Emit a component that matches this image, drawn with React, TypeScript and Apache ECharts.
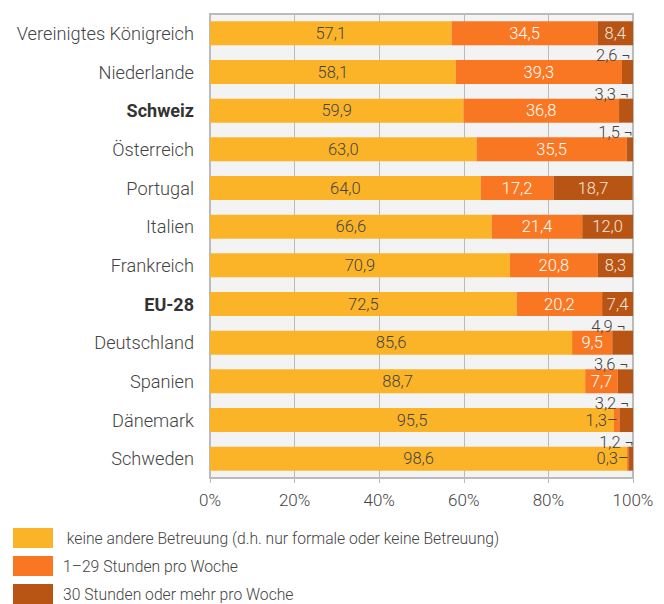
import React, { useEffect, useRef } from "react";
import * as echarts from "echarts";

const categories = [
  "Vereinigtes Königreich",
  "Niederlande",
  "Schweiz",
  "Österreich",
  "Portugal",
  "Italien",
  "Frankreich",
  "EU-28",
  "Deutschland",
  "Spanien",
  "Dänemark",
  "Schweden",
];
const boldCategories = ["Schweiz", "EU-28"];
const noneValues = [57.1, 58.1, 59.9, 63.0, 64.0, 66.6, 70.9, 72.5, 85.6, 88.7, 95.5, 98.6];
const midValues = [34.5, 39.3, 36.8, 35.5, 17.2, 21.4, 20.8, 20.2, 9.5, 7.7, 1.3, 0.3];
const highValues = [8.4, 2.6, 3.3, 1.5, 18.7, 12.0, 8.3, 7.4, 4.9, 3.6, 3.2, 1.2];
const xTicks = [0, 20, 40, 60, 80, 100];
const seriesNames = [
  " keine andere Betreuung (d.h. nur formale oder keine Betreuung)",
  "1–29 Stunden pro Woche",
  "30 Stunden oder mehr pro Woche",
];

const FONT = "Roboto";
const fmt = (v: number) => v.toFixed(1).replace(".", ",");

export default function App() {
  const ref = useRef<HTMLDivElement>(null);
  useEffect(() => {
    document.body.style.margin = "0";
    const chart = echarts.init(ref.current!, null, { renderer: "svg" });
    const baseLabel = {
      show: true,
      fontFamily: FONT,
      fontSize: 16.5,
      fontWeight: 300 as any,
    };
    const midData = midValues.map((v) =>
      v < 5
        ? {
            value: v,
            label: {
              ...baseLabel,
              position: ["50%", "50%"],
              align: "right",
              verticalAlign: "middle",
              color: "#444",
              offset: [1, 0],
              formatter: () => fmt(v) + "–",
            },
          }
        : { value: v }
    );
    const highData = highValues.map((v) =>
      v < 5
        ? {
            value: v,
            label: {
              ...baseLabel,
              position: ["50%", 0],
              align: "right",
              verticalAlign: "bottom",
              color: "#444",
              offset: [3, 4],
              formatter: () => fmt(v) + " ¬",
            },
          }
        : { value: v }
    );
    chart.setOption({
      animation: false,
      textStyle: { fontFamily: FONT },
      grid: {
        left: 210,
        right: 31,
        top: 14,
        bottom: 126,
        show: true,
        backgroundColor: "#f3f3f3",
        borderColor: "#bbbbbb",
        borderWidth: 2,
      },
      legend: {
        orient: "vertical",
        left: 13,
        top: 528,
        height: 90,
        itemWidth: 40,
        itemHeight: 20,
        itemGap: 8,
        padding: 0,
        icon: "rect",
        textStyle: {
          fontFamily: FONT,
          fontSize: 15.7,
          fontWeight: 300,
          color: "#444",
          padding: [0, 0, 0, 5],
        },
        data: seriesNames,
      },
      xAxis: {
        type: "value",
        min: 0,
        max: 100,
        interval: 20,
        axisLine: { show: true, lineStyle: { color: "#bbbbbb", width: 2 } },
        axisTick: { show: true, length: 5, lineStyle: { color: "#bbbbbb" } },
        splitLine: { show: true, lineStyle: { color: "#bbbbbb", width: 1 } },
        axisLabel: {
          fontFamily: FONT,
          fontSize: 17,
          fontWeight: 300,
          color: "#444",
          margin: 13,
          formatter: (v: number) => (xTicks.includes(v) ? v + "%" : ""),
        },
      },
      yAxis: {
        type: "category",
        inverse: true,
        data: categories,
        axisLine: { show: false },
        axisTick: { show: false },
        axisLabel: {
          fontFamily: FONT,
          fontSize: 18.2,
          fontWeight: 300,
          color: "#444",
          margin: 16,
          formatter: (v: string) => (boldCategories.includes(v) ? "{b|" + v + "}" : v),
          rich: {
            b: { fontFamily: FONT, fontSize: 18, fontWeight: "bold", color: "#333" },
          },
        },
      },
      series: [
        {
          name: seriesNames[0],
          type: "bar",
          stack: "total",
          barWidth: 24,
          itemStyle: { color: "#fbb427" },
          label: {
            ...baseLabel,
            position: "inside",
            color: "#444",
            formatter: (p: any) => fmt(p.value),
          },
          data: noneValues,
        },
        {
          name: seriesNames[1],
          type: "bar",
          stack: "total",
          barWidth: 24,
          itemStyle: { color: "#f97722" },
          label: {
            ...baseLabel,
            position: "inside",
            color: "#ffffff",
            formatter: (p: any) => fmt(p.value),
          },
          data: midData,
        },
        {
          name: seriesNames[2],
          type: "bar",
          stack: "total",
          barWidth: 24,
          itemStyle: { color: "#b95514" },
          label: {
            ...baseLabel,
            position: "inside",
            color: "#f4e6dc",
            formatter: (p: any) => fmt(p.value),
          },
          data: highData,
        },
      ],
    });
    return () => chart.dispose();
  }, []);
  return <div ref={ref} style={{ width: 664, height: 604 }} />;
}
